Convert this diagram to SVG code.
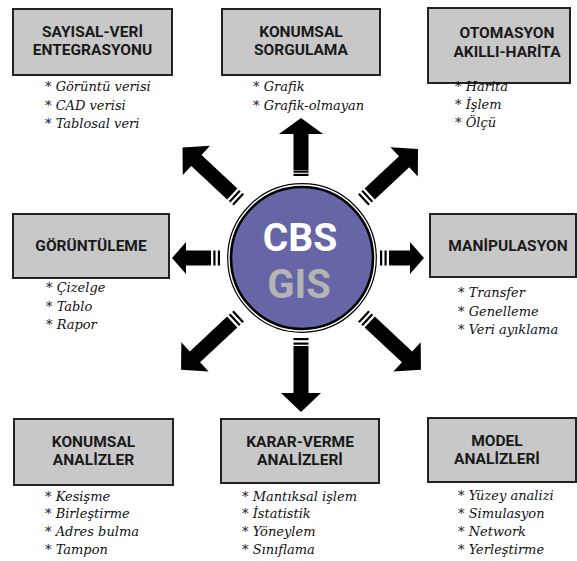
<svg xmlns="http://www.w3.org/2000/svg" width="577" height="561" viewBox="0 0 577 561">
<style>
.box{fill:#c8c8c8;stroke:#222;stroke-width:2}
.bt{font-family:Roboto, Liberation Sans, Arial, sans-serif;font-weight:bold;font-size:15.5px;fill:#1a1a1a;text-anchor:middle}
.li{font-family:DejaVu Serif, Liberation Serif, serif;font-style:italic;font-size:13px;fill:#111}
.cb{font-family:Roboto, Liberation Sans, Arial, sans-serif;font-weight:bold;text-anchor:middle}
.arr{fill:#000}
</style>
<rect width="577" height="561" fill="#fff"/>
<g id="connectors">
<g transform="translate(301,258) rotate(-90)"><path class="arr" d="M88,-7.5 L124,-7.5 L124,-22 L140,0 L124,22 L124,7.5 L88,7.5 Z"/><rect class="arr" x="82" y="-7.5" width="2.2" height="15"/><rect class="arr" x="85.3" y="-7.5" width="2.2" height="15"/></g>
<g transform="translate(301,258) rotate(90)"><path class="arr" d="M88,-7.5 L135,-7.5 L135,-20 L154,0 L135,20 L135,7.5 L88,7.5 Z"/><rect class="arr" x="80" y="-7.5" width="2.2" height="15"/><rect class="arr" x="84.5" y="-7.5" width="2.2" height="15"/></g>
<g transform="translate(301,258) rotate(180)"><path class="arr" d="M90,-7.5 L115,-7.5 L115,-16 L129,0 L115,16 L115,7.5 L90,7.5 Z"/><rect class="arr" x="81" y="-7.5" width="2.2" height="15"/><rect class="arr" x="85.5" y="-7.5" width="2.2" height="15"/></g>
<g transform="translate(301,258)"><path class="arr" d="M88,-7.5 L109,-7.5 L109,-16 L123,0 L109,16 L109,7.5 L88,7.5 Z"/><rect class="arr" x="79" y="-7.5" width="2.2" height="15"/><rect class="arr" x="83.5" y="-7.5" width="2.2" height="15"/></g>
<g transform="translate(301,258) rotate(-137)"><path class="arr" d="M94,-7.5 L143,-7.5 L143,-20 L162,0 L143,20 L143,7.5 L94,7.5 Z"/><rect class="arr" x="85" y="-7.5" width="2.2" height="15"/><rect class="arr" x="89.5" y="-7.5" width="2.2" height="15"/></g>
<g transform="translate(301,258) rotate(-43)"><path class="arr" d="M94,-7.5 L141,-7.5 L141,-20 L160,0 L141,20 L141,7.5 L94,7.5 Z"/><rect class="arr" x="85" y="-7.5" width="2.2" height="15"/><rect class="arr" x="89.5" y="-7.5" width="2.2" height="15"/></g>
<g transform="translate(301,258) rotate(137)"><path class="arr" d="M94,-7.5 L145,-7.5 L145,-20 L164,0 L145,20 L145,7.5 L94,7.5 Z"/><rect class="arr" x="85" y="-7.5" width="2.2" height="15"/><rect class="arr" x="89.5" y="-7.5" width="2.2" height="15"/></g>
<g transform="translate(301,258) rotate(43)"><path class="arr" d="M94,-7.5 L145,-7.5 L145,-20 L164,0 L145,20 L145,7.5 L94,7.5 Z"/><rect class="arr" x="85" y="-7.5" width="2.2" height="15"/><rect class="arr" x="89.5" y="-7.5" width="2.2" height="15"/></g>
</g>
<g id="cbs">
<circle cx="302" cy="258" r="74.3" fill="#fff" stroke="#000" stroke-width="1.2"/>
<circle cx="302" cy="258" r="71" fill="#6666a6" stroke="#000" stroke-width="2.6"/>
<text class="cb" x="300" y="251" font-size="39" fill="#fff">CBS</text>
<text class="cb" x="299" y="298" font-size="40" fill="#b4b4b4">GIS</text>
</g>
<g id="sayisal">
<rect class="box" x="13" y="9" width="159" height="66"/>
<text class="bt" x="92.5" y="37">SAYISAL-VERİ</text>
<text class="bt" x="92.5" y="55">ENTEGRASYONU</text>
<text class="li" x="45" y="91">* Görüntü verisi</text>
<text class="li" x="45" y="110">* CAD verisi</text>
<text class="li" x="45" y="128">* Tablosal veri</text>
</g>
<g id="sorgulama">
<rect class="box" x="222" y="9" width="158" height="66"/>
<text class="bt" x="301" y="37">KONUMSAL</text>
<text class="bt" x="301" y="55">SORGULAMA</text>
<text class="li" x="253" y="91">* Grafik</text>
<text class="li" x="253" y="110">* Grafik-olmayan</text>
</g>
<g id="otomasyon">
<rect class="box" x="428" y="8" width="142" height="75"/>
<text class="bt" x="507" y="38">OTOMASYON</text>
<text class="bt" x="507" y="57">AKILLI-HARİTA</text>
<text class="li" x="455" y="91">* Harita</text>
<text class="li" x="455" y="109">* İşlem</text>
<text class="li" x="455" y="127">* Ölçü</text>
</g>
<g id="goruntuleme">
<rect class="box" x="13" y="214" width="156" height="64"/>
<text class="bt" x="91" y="251">GÖRÜNTÜLEME</text>
<text class="li" x="46" y="292">* Çizelge</text>
<text class="li" x="46" y="311">* Tablo</text>
<text class="li" x="46" y="329">* Rapor</text>
</g>
<g id="manipulasyon">
<rect class="box" x="430" y="214" width="146" height="63"/>
<text class="bt" x="508" y="251">MANİPULASYON</text>
<text class="li" x="458" y="297">* Transfer</text>
<text class="li" x="458" y="316">* Genelleme</text>
<text class="li" x="458" y="334">* Veri ayıklama</text>
</g>
<g id="konumsal-analizler">
<rect class="box" x="14" y="419" width="159" height="66"/>
<text class="bt" x="93.5" y="447">KONUMSAL</text>
<text class="bt" x="93.5" y="465">ANALİZLER</text>
<text class="li" x="45" y="501">* Kesişme</text>
<text class="li" x="45" y="518">* Birleştirme</text>
<text class="li" x="45" y="536">* Adres bulma</text>
<text class="li" x="45" y="554">* Tampon</text>
</g>
<g id="karar-verme">
<rect class="box" x="221" y="419" width="158" height="64"/>
<text class="bt" x="300" y="447">KARAR-VERME</text>
<text class="bt" x="300" y="465">ANALİZLERİ</text>
<text class="li" x="242" y="501">* Mantıksal işlem</text>
<text class="li" x="242" y="518">* İstatistik</text>
<text class="li" x="242" y="536">* Yöneylem</text>
<text class="li" x="242" y="554">* Sınıflama</text>
</g>
<g id="model">
<rect class="box" x="428" y="418" width="148" height="64"/>
<text class="bt" x="497" y="446">MODEL</text>
<text class="bt" x="497" y="464">ANALİZLERİ</text>
<text class="li" x="458" y="500">* Yüzey analizi</text>
<text class="li" x="458" y="518">* Simulasyon</text>
<text class="li" x="458" y="536">* Network</text>
<text class="li" x="458" y="554">* Yerleştirme</text>
</g>
</svg>
